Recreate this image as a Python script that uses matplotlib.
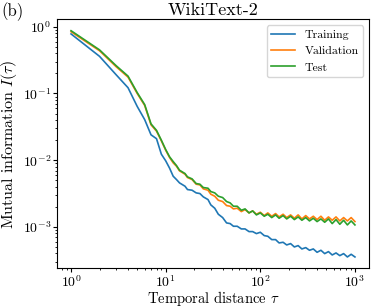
# ───────────────────────── Imports ─────────────────────────
import numpy as np
import matplotlib
matplotlib.use("Agg")
import matplotlib.pyplot as plt

# ───────────────────────── Data (log10 of mutual information) ─────────────────────────
tau = [1, 2, 3, 4, 5, 6, 7, 8, 9, 10,
       11, 12, 13, 14, 16, 17, 19, 21, 23, 25, 28, 30, 33, 36, 40, 44, 48, 52, 57, 63,
       69, 76, 83, 91, 100, 110, 120, 132, 145, 158, 174, 190, 209, 229, 251, 275, 302, 331, 363, 398,
       437, 479, 525, 575, 631, 692, 759, 832, 912, 1000]

train_log10 = [-0.108, -0.444, -0.721, -0.914, -1.194, -1.392, -1.62, -1.678, -1.91, -2.009,
               -2.12, -2.24, -2.29, -2.34, -2.39, -2.44, -2.45, -2.49, -2.50, -2.55, -2.59, -2.67, -2.72, -2.81, -2.86, -2.94, -2.95, -2.99, -2.99, -3.03,
               -3.03, -3.07, -3.07, -3.10, -3.08, -3.13, -3.14, -3.19, -3.19, -3.24, -3.23, -3.27, -3.25, -3.30, -3.28, -3.33, -3.31, -3.35, -3.33, -3.38,
               -3.35, -3.40, -3.37, -3.42, -3.39, -3.43, -3.40, -3.45, -3.41, -3.45]

valid_log10 = [-0.075, -0.36, -0.60, -0.755, -1.0, -1.18, -1.47, -1.565, -1.71, -1.85,
               -1.96, -2.04, -2.09, -2.16, -2.21, -2.26, -2.29, -2.36, -2.37, -2.43, -2.45, -2.51, -2.54, -2.60, -2.62, -2.68, -2.69, -2.73, -2.72, -2.77,
               -2.74, -2.79, -2.76, -2.81, -2.78, -2.83, -2.79, -2.84, -2.80, -2.85, -2.81, -2.86, -2.82, -2.87, -2.82, -2.88, -2.83, -2.88, -2.84, -2.89,
               -2.84, -2.90, -2.85, -2.90, -2.85, -2.91, -2.86, -2.91, -2.86, -2.92]

test_log10 = [-0.06, -0.347, -0.585, -0.74, -0.987, -1.167, -1.456, -1.553, -1.70, -1.84,
              -1.95, -2.02, -2.08, -2.15, -2.20, -2.25, -2.28, -2.35, -2.36, -2.41, -2.42, -2.47, -2.49, -2.54, -2.56, -2.62, -2.64, -2.69, -2.69, -2.75,
              -2.73, -2.79, -2.76, -2.82, -2.79, -2.84, -2.81, -2.86, -2.82, -2.87, -2.83, -2.88, -2.84, -2.89, -2.85, -2.90, -2.86, -2.91, -2.87, -2.92,
              -2.88, -2.93, -2.88, -2.95, -2.89, -2.96, -2.90, -2.97, -2.91, -2.97]

series_labels = ["Training", "Validation", "Test"]

# ───────────────────────── Style ─────────────────────────
plt.rcParams["font.family"] = ["cmr10", "DejaVu Serif"]
plt.rcParams["mathtext.fontset"] = "cm"
plt.rcParams["axes.formatter.use_mathtext"] = True
plt.rcParams["axes.unicode_minus"] = True

# ───────────────────────── Plot ─────────────────────────
fig = plt.figure(figsize=(3.74, 3.08), dpi=100)
ax = fig.add_axes([0.152, 0.129, 0.835, 0.808])

for values, label in zip([train_log10, valid_log10, test_log10], series_labels):
    ax.plot(tau, 10 ** np.array(values), label=label, linewidth=1.2)

ax.set_xscale("log")
ax.set_yscale("log")
ax.set_title("WikiText-2", fontsize=13, pad=3)
ax.set_xlabel(r"Temporal distance $\tau$", fontsize=10.5, va="baseline")
ax.set_ylabel(r"Mutual information $I(\tau)$", fontsize=11.5)
# put the axis labels where the reference has them
ax.xaxis.set_label_coords(0.5, -0.139)
ax.yaxis.set_label_coords(-0.122, 0.5)
ax.tick_params(labelsize=10, pad=1, length=3)
ax.tick_params(which="minor", length=1.6)
ax.legend(loc="upper right", fontsize=8.5)

fig.text(0.005, 0.962, "(b)", fontsize=12, ha="left", va="center")

fig.savefig("out.png", dpi=100)
